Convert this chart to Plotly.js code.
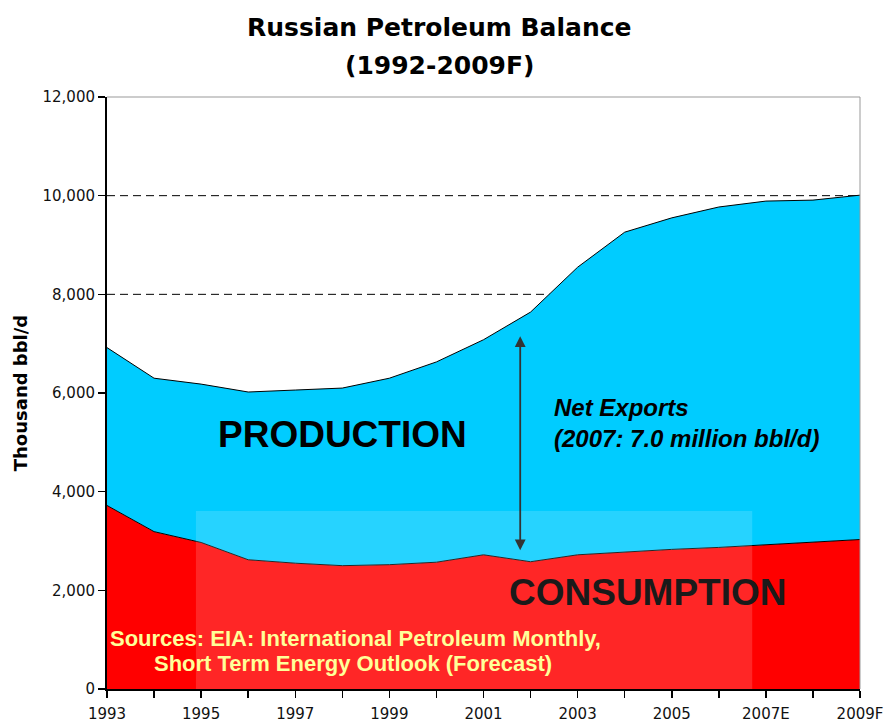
<!DOCTYPE html>
<html>
<head>
<meta charset="utf-8">
<script src="https://cdn.plot.ly/plotly-3.0.1.min.js"></script>
<style>html,body{margin:0;padding:0;background:#fff;}</style>
</head>
<body>
<div id="chart" style="width:885px;height:724px;"></div>
<script>
const years = [1993,1994,1995,1996,1997,1998,1999,2000,2001,2002,2003,2004,2005,2006,2007,2008,2009];
const production = [6920,6300,6180,6020,6060,6100,6300,6630,7080,7640,8550,9260,9550,9770,9890,9910,10010];
const consumption = [3720,3190,2970,2620,2550,2500,2520,2570,2720,2580,2720,2780,2830,2870,2920,2970,3030];
const tickVals = [1993,1995,1997,1999,2001,2003,2005,2007,2009];
const tickText = ['1993','1995','1997','1999','2001','2003','2005','2007E','2009F'];

const font = "Liberation Sans, Arial, sans-serif";
const dv = "DejaVu Sans, Verdana, sans-serif";

const traces = [
  {x: years, y: consumption, type:'scatter', mode:'lines', fill:'tozeroy',
   fillcolor:'rgb(255,0,0)', line:{color:'#000', width:1}, hoverinfo:'skip', showlegend:false},
  {x: years, y: production, type:'scatter', mode:'lines', fill:'tonexty',
   fillcolor:'rgb(0,204,255)', line:{color:'#000', width:1}, hoverinfo:'skip', showlegend:false}
];

const layout = {
  width:885, height:724,
  margin:{l:107, r:25, t:97, b:35},
  paper_bgcolor:'#fff', plot_bgcolor:'#fff',
  font:{family:font, color:'#000'},
  xaxis:{range:[1993,2009], tickvals:tickVals, ticktext:tickText, showgrid:false, zeroline:false,
    showline:true, linecolor:'#000', linewidth:2, ticks:'outside', ticklen:7, tickcolor:'#000', tickwidth:1.5,
    ticklabelstandoff:3,
    minor:{dtick:1, tick0:1993, ticks:'outside', ticklen:7, tickcolor:'#000', tickwidth:1.5, showgrid:false},
    tickfont:{family:dv, size:15, color:'#111'}},
  yaxis:{range:[0,12000], dtick:2000, tickformat:',d', showgrid:false, zeroline:false,
    showline:true, linecolor:'#000', linewidth:2, ticks:'outside', ticklen:7, tickcolor:'#000', tickwidth:1.5,
    tickfont:{family:dv, size:15, color:'#111'},
    title:{text:'<b>Thousand bbl/d</b>', font:{family:dv, size:18, color:'#000'}, standoff:10}},
  shapes:[
    {type:'line', xref:'paper', x0:0, x1:1, yref:'y', y0:8000, y1:8000, layer:'below', line:{color:'#000', width:1, dash:'8px,5px'}},
    {type:'line', xref:'paper', x0:0, x1:1, yref:'y', y0:10000, y1:10000, layer:'below', line:{color:'#000', width:1, dash:'8px,5px'}},
    {type:'line', xref:'paper', x0:0, x1:1, yref:'paper', y0:1, y1:1, line:{color:'#999', width:1}},
    {type:'line', xref:'paper', x0:1, x1:1, yref:'paper', y0:0, y1:1, line:{color:'#999', width:1}},
    {type:'rect', xref:'x', x0:1994.89, x1:2006.71, yref:'y', y0:0, y1:3608, layer:'above',
     fillcolor:'rgba(255,255,255,0.15)', line:{width:0}}
  ],
  annotations:[
    {x:0.4422, y:1.1166, xref:'paper', yref:'paper', text:'<b>Russian Petroleum Balance</b>', showarrow:false,
     xanchor:'center', yanchor:'middle', font:{family:dv, size:25, color:'#000'}},
    {x:0.4422, y:1.054, xref:'paper', yref:'paper', text:'<b>(1992-2009F)</b>', showarrow:false,
     xanchor:'center', yanchor:'middle', font:{family:dv, size:25, color:'#000'}},
    {x:1998.0, y:5150, xref:'x', yref:'y', text:'<b>PRODUCTION</b>', showarrow:false,
     font:{family:font, size:37, color:'#000'}},
    {x:2004.5, y:1966, xref:'x', yref:'y', text:'<b>CONSUMPTION</b>', showarrow:false,
     font:{family:font, size:37, color:'#1a1a1a'}},
    {x:2002.46, y:5392, xref:'x', yref:'y', xanchor:'left', yanchor:'middle', align:'left',
     text:'<i>Net Exports</i><br><i>(2007: 7.0 million bbl/d)</i>', showarrow:false,
     font:{family:font, size:24, color:'#000', weight:600}},
    {x:2001.78, y:7150, xref:'x', yref:'y', axref:'x', ayref:'y', ax:2001.78, ay:2780,
     text:'', showarrow:true, arrowhead:2, arrowside:'end+start', arrowsize:1.2, arrowwidth:1.8, arrowcolor:'#333'},
    {x:1993.02, y:1030, xref:'x', yref:'y', xanchor:'left', yanchor:'middle', align:'left',
     text:'<b>Sources: EIA: International Petroleum Monthly,</b>', showarrow:false,
     font:{family:font, size:22, color:'#FFFF99'}},
    {x:1993.95, y:510, xref:'x', yref:'y', xanchor:'left', yanchor:'middle', align:'left',
     text:'<b>Short Term Energy Outlook (Forecast)</b>', showarrow:false,
     font:{family:font, size:22, color:'#FFFF99'}}
  ]
};

Plotly.newPlot('chart', traces, layout, {displayModeBar:false, staticPlot:true});
</script>
</body>
</html>
